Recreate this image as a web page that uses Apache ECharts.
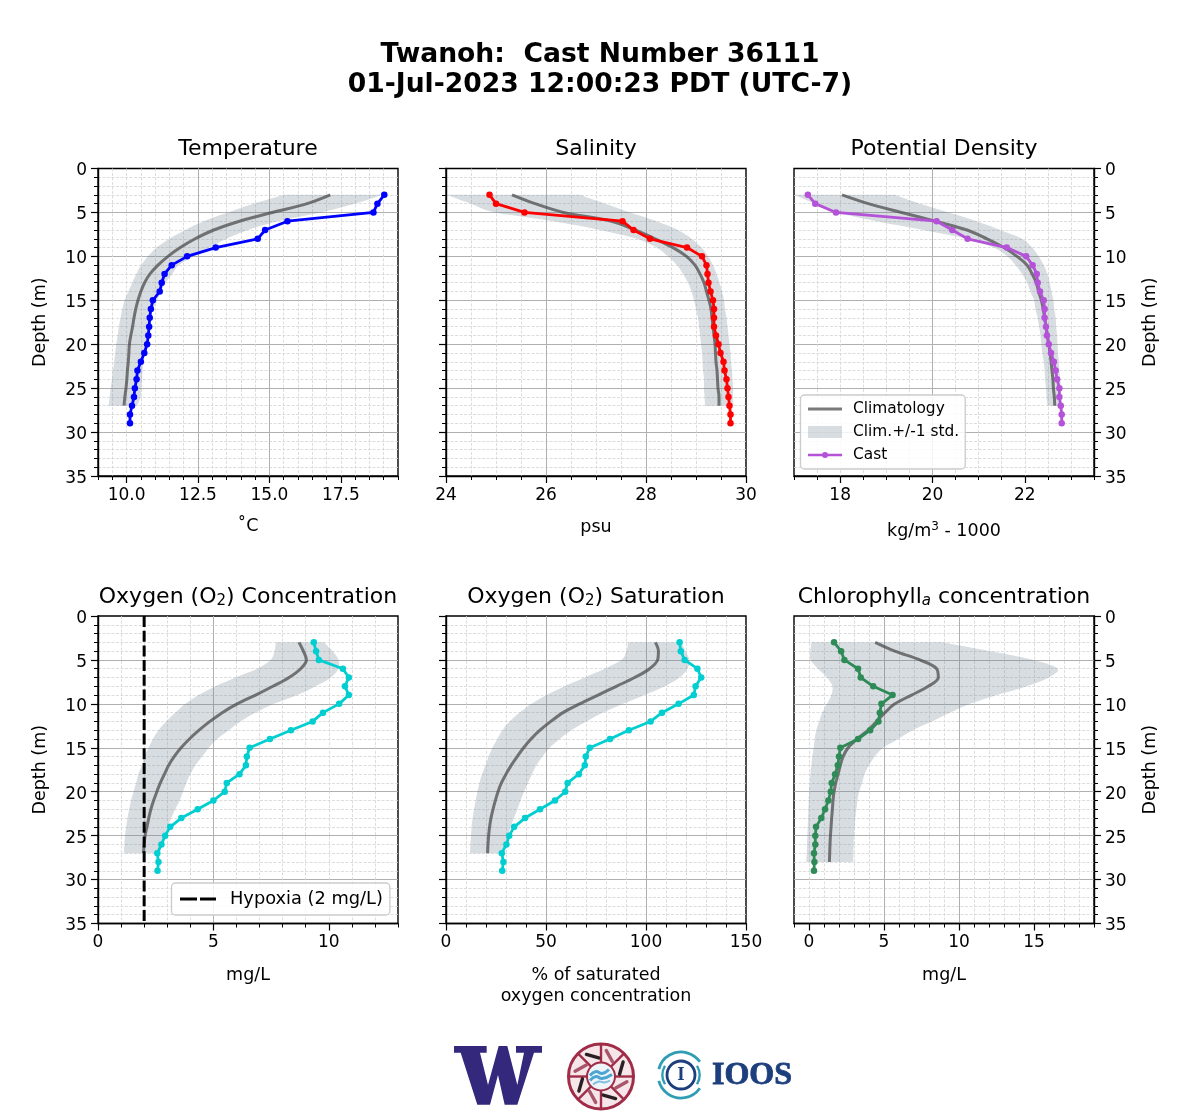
<!DOCTYPE html>
<html>
<head>
<meta charset="utf-8">
<style>html,body{margin:0;padding:0;background:#fff}#c{width:1200px;height:1120px}</style>
<script src="https://cdn.jsdelivr.net/npm/echarts@6/dist/echarts.min.js"></script>
</head>
<body>
<div id="c"></div>
<script>
const castDepths = [3,4,5,6,7,8,9,10,11,12,13,14,15,16,17,18,19,20,21,22,23,24,25,26,27,28,29];
const climDepths = [3,4,5,6,7,8,9,10,11,12,13,14,15,16,17,18,19,20,21,22,23,24,25,26,27];
const chlClimDepths = [3,4,5,6,7,8,9,10,11,12,13,14,15,16,17,18,19,20,21,22,23,24,25,26,27,28];
const depthTicks = [0,5,10,15,20,25,30,35];

const tempCast = [19.02,18.78,18.64,15.63,14.85,14.59,13.12,12.12,11.58,11.33,11.23,11.16,10.92,10.85,10.81,10.79,10.76,10.72,10.62,10.5,10.38,10.35,10.29,10.26,10.19,10.12,10.12];
const tempClim = [17.13,16.32,15.1,13.95,13.05,12.4,11.88,11.45,11.1,10.82,10.63,10.5,10.4,10.32,10.26,10.21,10.15,10.1,10.08,10.06,10.03,10.01,9.98,9.94,9.91];
const tempLow = [15.5,14.45,13.55,12.7,12.05,11.5,11.05,10.75,10.51,10.34,10.2,10.06,9.93,9.85,9.79,9.73,9.69,9.64,9.6,9.57,9.52,9.49,9.44,9.41,9.37];
const tempHigh = [18.94,18,16.8,15.3,14.25,13.5,12.9,12.35,11.83,11.6,11.36,11.21,11.07,10.93,10.84,10.78,10.72,10.68,10.63,10.58,10.56,10.54,10.51,10.49,10.37];
const tempTicks = [10,12.5,15,17.5];

const salCast = [24.87,25,25.57,27.53,27.75,28.08,28.82,29.12,29.21,29.23,29.25,29.29,29.34,29.36,29.36,29.36,29.4,29.45,29.49,29.55,29.57,29.61,29.63,29.65,29.67,29.69,29.69];
const salClim = [25.32,25.78,26.35,27.31,27.78,28.18,28.54,28.81,28.98,29.08,29.16,29.21,29.26,29.3,29.32,29.34,29.36,29.38,29.39,29.4,29.42,29.43,29.44,29.46,29.46];
const salLow = [24.02,24.49,24.98,26.15,27.08,27.81,28.21,28.44,28.62,28.74,28.84,28.91,28.96,29,29.04,29.06,29.08,29.1,29.12,29.13,29.14,29.16,29.16,29.17,29.18];
const salHigh = [26.68,27.18,27.68,28.21,28.64,28.91,29.11,29.24,29.34,29.41,29.47,29.52,29.56,29.58,29.61,29.63,29.65,29.67,29.69,29.7,29.72,29.73,29.74,29.74,29.75];
const salTicks = [24,26,28,30];

const denCast = [17.3,17.46,17.91,20.09,20.43,20.76,21.61,22.03,22.17,22.26,22.28,22.33,22.41,22.43,22.43,22.46,22.48,22.52,22.57,22.63,22.67,22.7,22.75,22.75,22.78,22.8,22.8];
const denClim = [18.04,18.61,19.33,20.06,20.75,21.18,21.55,21.83,22.05,22.16,22.25,22.3,22.36,22.4,22.43,22.46,22.49,22.52,22.55,22.57,22.59,22.61,22.62,22.64,22.65];
const denLow = [17.01,17.45,17.92,18.79,19.8,20.75,21.33,21.62,21.8,21.94,22.05,22.12,22.2,22.23,22.28,22.31,22.34,22.36,22.38,22.41,22.43,22.44,22.46,22.47,22.49];
const denHigh = [19.19,19.73,20.35,20.96,21.47,21.94,22.16,22.3,22.41,22.49,22.54,22.58,22.62,22.64,22.67,22.68,22.7,22.71,22.72,22.74,22.75,22.77,22.78,22.78,22.79];
const denTicks = [18,20,22];

const o2Cast = [9.35,9.45,9.57,10.61,10.87,10.7,10.87,10.45,9.75,9.3,8.36,7.45,6.57,6.45,6.41,6.13,5.58,5.49,5,4.32,3.61,3.13,2.91,2.75,2.57,2.62,2.58];
const o2Clim = [8.71,8.9,9.03,8.78,8.28,7.58,6.83,6.03,5.38,4.85,4.38,3.96,3.6,3.3,3.06,2.88,2.7,2.55,2.41,2.29,2.2,2.12,2.04,2,1.97];
const o2Low = [7.7,7.65,7.48,6.9,5.96,5.09,4.36,3.78,3.35,2.96,2.62,2.38,2.19,2.01,1.9,1.75,1.65,1.54,1.43,1.35,1.28,1.22,1.17,1.14,1.12];
const o2High = [9.8,10.16,10.42,10.41,10.09,9.43,8.64,7.62,6.83,6.17,5.67,5.16,4.8,4.51,4.22,4,3.83,3.68,3.54,3.35,3.17,3.03,2.91,2.8,2.67];
const o2Ticks = [0,5,10];
const hypoxiaX = [2,2];
const hypoxiaDepth = [0,35];

const satCast = [116.8,117.4,119.3,125.7,127.6,124.8,123.9,116.3,108,102.3,91.4,82,71.9,69.9,69.4,66.4,60.8,59.6,54.5,47,39.5,34.1,31.6,30.2,27.9,28.7,28.1];
const satClim = [104.7,106.2,105.8,101.8,94.3,85.2,76,66.8,58.5,52.4,47,42.5,38.8,35.6,32.6,30,27.7,26,24.7,23.5,22.5,21.8,21.3,21,20.8];
const satLow = [91,90.2,87.7,79.3,69.3,59.3,50.2,42.7,36.8,31.8,28.2,25.7,23.2,21.3,19.7,18,16.7,15.7,14.8,14,13.3,12.8,12.5,12.2,12];
const satHigh = [117.7,119.7,121.7,120.7,116.8,109.3,99.3,88.5,78.5,70.2,62.7,56.8,51.8,48.2,45.2,43,41,39,37.3,35.7,34,32.3,31,29.3,27.7];
const satTicks = [0,50,100,150];

const chlCast = [1.67,2.14,2.36,3.27,3.45,4.28,5.57,4.83,4.72,4.63,4.08,3.27,2.09,2,1.92,1.74,1.51,1.45,1.29,1.07,0.82,0.47,0.42,0.42,0.33,0.36,0.33];
const chlClim = [4.41,5.72,7.39,8.51,8.62,7.95,6.84,5.72,5.06,4.5,3.94,3.21,2.61,2.27,2.09,1.94,1.78,1.67,1.6,1.56,1.51,1.47,1.43,1.4,1.38,1.36];
const chlLow = [0.16,0.09,0.11,0.6,1.2,1.56,1.49,1.2,0.89,0.67,0.49,0.38,0.31,0.22,0.16,0.09,0.05,0,-0.02,-0.04,-0.06,-0.09,-0.11,-0.13,-0.15,-0.18];
const chlHigh = [8.95,12.07,14.97,16.57,15.97,14.52,12.52,10.73,9.4,8.2,6.9,5.95,4.94,4.38,4,3.71,3.54,3.34,3.23,3.16,3.09,3.05,3,2.98,2.96,2.94];
const chlTicks = [0,5,10,15];

const FONT = 'DejaVu Sans';
const BAND = 'rgba(112,128,144,0.27)';
const CLIM = 'rgba(70,70,70,0.72)';

const zip = (xs, ys) => xs.map((x, i) => [x, ys[i]]);
const zip3 = (a, b, c) => a.map((x, i) => [x, b[i], c[i]]);

/* rounds the drawn outline of the band between the pixel positions the axes return */
function rounded(pts) {
  const out = [];
  for (let i = 0; i < pts.length - 1; i++) {
    const a = pts[Math.max(i - 1, 0)], b = pts[i], c = pts[i + 1], d = pts[Math.min(i + 2, pts.length - 1)];
    for (let k = 0; k < 6; k++) {
      const t = k / 6, t2 = t * t, t3 = t2 * t;
      out.push([0, 1].map(j => 0.5 * (2 * b[j] + (c[j] - a[j]) * t + (2 * a[j] - 5 * b[j] + 4 * c[j] - d[j]) * t2 + (3 * b[j] - a[j] - 3 * c[j] + d[j]) * t3)));
    }
  }
  out.push(pts[pts.length - 1]);
  return out;
}
function bandRender(params, api) {
  if (params.dataIndex !== 0) return;
  const n = params.dataInsideLength, lo = [], hi = [];
  for (let i = 0; i < n; i++) {
    lo.push(api.coord([api.value(0, i), api.value(2, i)]));
    hi.push(api.coord([api.value(1, i), api.value(2, i)]));
  }
  return { type: 'polygon', shape: { points: rounded(lo).concat(rounded(hi).reverse()) }, style: { fill: BAND } };
}

const panels = [
  {col:0,row:0,title:'Temperature',xname:'˚C',gap:40,min:9,max:19.5,minor:0.5,ticks:tempTicks,fmt:v=>v.toFixed(1),
   cast:tempCast,clim:tempClim,low:tempLow,high:tempHigh,color:'#0000ff',castName:'Temperature cast',climName:'Temperature climatology',bandName:'Temperature band',climD:climDepths},
  {col:1,row:0,title:'Salinity',xname:'psu',gap:41,min:24,max:30,minor:0.5,ticks:salTicks,fmt:v=>String(v),
   cast:salCast,clim:salClim,low:salLow,high:salHigh,color:'#ff0000',castName:'Salinity cast',climName:'Salinity climatology',bandName:'Salinity band',climD:climDepths},
  {col:2,row:0,title:'Potential Density',xname:'kg/m{sup|3} - 1000',gap:45,min:17,max:23.5,minor:0.5,ticks:denTicks,fmt:v=>String(v),
   cast:denCast,clim:denClim,low:denLow,high:denHigh,color:'#b452d8',castName:'Cast',climName:'Climatology',bandName:'Clim.+/-1 std.',climD:climDepths},
  {col:0,row:1,title:'Oxygen (O{sub|2}) Concentration',xname:'mg/L',gap:41,min:0,max:13,minor:1,ticks:o2Ticks,fmt:v=>String(v),
   cast:o2Cast,clim:o2Clim,low:o2Low,high:o2High,color:'#00ced1',castName:'Oxygen cast',climName:'Oxygen climatology',bandName:'Oxygen band',climD:climDepths},
  {col:1,row:1,title:'Oxygen (O{sub|2}) Saturation',xname:'% of saturated\noxygen concentration',gap:41,min:0,max:150,minor:10,ticks:satTicks,fmt:v=>String(v),
   cast:satCast,clim:satClim,low:satLow,high:satHigh,color:'#00ced1',castName:'Saturation cast',climName:'Saturation climatology',bandName:'Saturation band',climD:climDepths},
  {col:2,row:1,title:'Chlorophyll{ital|a} concentration',xname:'mg/L',gap:41,min:-1,max:19,minor:1,ticks:chlTicks,fmt:v=>String(v),
   cast:chlCast,clim:chlClim,low:chlLow,high:chlHigh,color:'#2e8b57',castName:'Chlorophyll cast',climName:'Chlorophyll climatology',bandName:'Chlorophyll band',climD:chlClimDepths}
];

const LEFTS = [98, 446, 794], TOPS = [168.5, 616], W = 300, H = 307.5;
const grid = [], xAxis = [], yAxis = [], series = [], title = [];

title.push({
  text: 'Twanoh:  Cast Number 36111\n01-Jul-2023 12:00:23 PDT (UTC-7)',
  left: 600, top: 40, textAlign: 'center', padding: 0,
  textStyle: { fontFamily: FONT, fontSize: 26.6, fontWeight: 'bold', color: '#000', lineHeight: 30 }
});

panels.forEach((p, i) => {
  const left = LEFTS[p.col], top = TOPS[p.row];
  title.push({
    text: p.title, left: left + W / 2, top: top - 30, textAlign: 'center', padding: 0,
    textStyle: { fontFamily: FONT, fontSize: 22, fontWeight: 'normal', color: '#000',
      rich: {
        sub: { fontFamily: FONT, fontSize: 15, verticalAlign: 'bottom', padding: [8, 0, 0, 0], color: '#000' },
        ital: { fontFamily: FONT, fontSize: 15, fontStyle: 'italic', verticalAlign: 'bottom', padding: [8, 0, 0, 0], color: '#000' }
      } }
  });
  const gBack = grid.length;
  grid.push({ left, top, width: W, height: H, z: 0 });
  const gFront = grid.length;
  grid.push({ left, top, width: W, height: H, show: true, borderColor: '#000', borderWidth: 1.4, backgroundColor: 'transparent' });

  xAxis.push({ gridIndex: gBack, type: 'value', min: p.min, max: p.max, interval: p.minor,
    axisLine: { show: false, onZero: false }, axisLabel: { show: false },
    axisTick: { show: true, length: 4, lineStyle: { color: '#000', width: 1 } },
    splitLine: { show: true, showMinLine: false, showMaxLine: false, lineStyle: { color: '#d4d4d4', width: 0.8, type: [3, 1.5] } } });
  yAxis.push({ gridIndex: gBack, type: 'value', min: 0, max: 35, inverse: true, interval: 5,
    show: false, splitLine: { show: false } });

  const xFront = xAxis.length;
  xAxis.push({ gridIndex: gFront, type: 'value', min: p.min, max: p.max,
    name: p.xname, nameLocation: 'middle', nameGap: p.gap,
    nameTextStyle: { fontFamily: FONT, fontSize: 17.5, color: '#000', lineHeight: 21,
      rich: { sup: { fontFamily: FONT, fontSize: 12, verticalAlign: 'top', padding: [0, 0, 7, 0], color: '#000' } } },
    axisLine: { show: true, onZero: false, lineStyle: { color: '#000', width: 1.4 } },
    axisTick: { show: true, length: 7, lineStyle: { color: '#000', width: 1.2 }, customValues: p.ticks },
    axisLabel: { show: true, fontFamily: FONT, fontSize: 17, color: '#000', margin: 11, customValues: p.ticks, formatter: p.fmt, hideOverlap: false },
    splitLine: { show: true, showMinLine: false, showMaxLine: false, lineStyle: { color: '#b0b0b0', width: 1 } } });
  const yFront = yAxis.length;
  const labelled = p.col !== 1;
  yAxis.push({ gridIndex: gFront, type: 'value', min: 0, max: 35, inverse: true, interval: 5,
    position: p.col === 2 ? 'right' : 'left',
    name: labelled ? 'Depth (m)' : '', nameLocation: 'middle', nameGap: p.col === 2 ? 47 : 49, nameRotate: 90,
    nameTextStyle: { fontFamily: FONT, fontSize: 17.5, color: '#000' },
    axisLine: { show: true, onZero: false, lineStyle: { color: '#000', width: 1.4 } },
    axisTick: { show: true, length: 7, lineStyle: { color: '#000', width: 1.2 } },
    minorTick: { show: true, splitNumber: 5, length: 4, lineStyle: { color: '#000', width: 1 } },
    axisLabel: { show: labelled, fontFamily: FONT, fontSize: 17, color: '#000', margin: 11, verticalAlign: 'top', lineHeight: 5, customValues: depthTicks },
    splitLine: { show: true, showMinLine: false, showMaxLine: false, lineStyle: { color: '#b0b0b0', width: 1 } },
    minorSplitLine: { show: true, lineStyle: { color: '#d4d4d4', width: 0.8, type: [3, 1.5] } } });

  series.push({
    name: p.bandName, type: 'custom', xAxisIndex: xFront, yAxisIndex: yFront, renderItem: bandRender,
    encode: { x: [0, 1], y: 2 }, clip: true, silent: true, itemStyle: { color: BAND },
    data: zip3(p.low, p.high, p.climD), z: 2
  });
  series.push({
    name: p.climName, type: 'line', xAxisIndex: xFront, yAxisIndex: yFront, showSymbol: false, symbol: 'none', smooth: 0.35,
    lineStyle: { color: CLIM, width: 3 }, itemStyle: { color: CLIM }, data: zip(p.clim, p.climD), z: 3, silent: true, animation: false
  });
  series.push({
    name: p.castName, type: 'line', xAxisIndex: xFront, yAxisIndex: yFront, symbol: 'circle', symbolSize: 6.5, showSymbol: true,
    lineStyle: { color: p.color, width: 2.8 }, itemStyle: { color: p.color }, data: zip(p.cast, castDepths), z: 4, silent: true, animation: false
  });
  if (i === 3) {
    series.push({
      name: 'Hypoxia (2 mg/L)', type: 'line', xAxisIndex: xFront, yAxisIndex: yFront, symbol: 'none',
      lineStyle: { color: '#000', width: 3, type: [11, 3.7] }, itemStyle: { color: '#000' },
      data: zip(hypoxiaX, hypoxiaDepth), z: 5, silent: true, animation: false
    });
  }
});

const legendBase = { orient: 'vertical', backgroundColor: 'rgba(255,255,255,0.85)', borderColor: '#cccccc', borderWidth: 1.3, borderRadius: 4, selectedMode: false, z: 20 };
const CAST_ICON = 'path://M0 1.7H34V4.3H0Z M20 3A3 3 0 1 1 14 3A3 3 0 1 1 20 3Z';
const legend = [
  Object.assign({}, legendBase, { left: 800.5, top: 395, padding: [6.5, 6, 6.5, 6], itemWidth: 34, itemHeight: 12, itemGap: 8, align: 'left',
    textStyle: { fontFamily: FONT, fontSize: 15.4, color: '#000', padding: [0, 0, 0, 6] },
    data: [ { name: 'Climatology', itemStyle: { opacity: 0 }, lineStyle: { width: 3 } }, { name: 'Clim.+/-1 std.', icon: 'rect', itemStyle: { color: BAND } }, { name: 'Cast', icon: CAST_ICON } ] }),
  Object.assign({}, legendBase, { left: 171.5, top: 883, padding: [7, 7, 7, 7], itemWidth: 36, itemHeight: 14, align: 'left',
    textStyle: { fontFamily: FONT, fontSize: 17.8, color: '#000', padding: [0, 0, 0, 9] },
    data: [ { name: 'Hypoxia (2 mg/L)', itemStyle: { opacity: 0 }, lineStyle: { width: 3, type: [17, 3] } } ] })
];

const NAVY = '#33287c', CRIM = '#a02c48', TEAL = '#2f9db3', BLUE = '#1d3f7d';
const wPts = [[72,48],[170,48],[170,68],[150,68],[174,165],[206,48],[232,48],[262,165],[282,68],[258,68],[258,48],[336,48],[336,68],[312,68],[262,224],[224,224],[204,135],[180,224],[142,224],[92,68],[72,68]]
  .map(q => [430 + q[0] / 3, 1030 + q[1] / 3]);
const logo = [{ type: 'polygon', shape: { points: wPts }, style: { fill: NAVY } }];
const cx = 601, cy = 1076.5;
logo.push({ type: 'circle', shape: { cx, cy, r: 32.5 }, style: { fill: '#f6e6ea', stroke: CRIM, lineWidth: 3 } });
logo.push({ type: 'circle', shape: { cx, cy, r: 14 }, style: { fill: '#eef4f8', stroke: CRIM, lineWidth: 2 } });
for (let k = 0; k < 8; k++) {
  const a = Math.PI / 8 + k * Math.PI / 4, ca = Math.cos(a), sa = Math.sin(a), b = a + Math.PI / 8;
  logo.push({ type: 'line', shape: { x1: cx + 14 * Math.cos(b), y1: cy + 14 * Math.sin(b), x2: cx + 32 * Math.cos(b), y2: cy + 32 * Math.sin(b) }, style: { stroke: CRIM, lineWidth: 2.4 } });
  logo.push({ type: 'line', shape: { x1: cx + 18 * ca - 5 * sa, y1: cy + 18 * sa + 5 * ca, x2: cx + 26 * ca + 5 * sa, y2: cy + 26 * sa - 5 * ca }, style: { stroke: k % 2 ? '#2a2024' : '#a8566a', lineWidth: 3.4, lineCap: 'round' } });
}
logo.push({ type: 'polyline', shape: { points: [[cx-11,cy-1],[cx-5,cy-5],[cx+1,cy-3],[cx+8,cy-7]], smooth: 0.5 }, style: { stroke: '#4ba6d3', lineWidth: 3, fill: 'none' } });
logo.push({ type: 'polyline', shape: { points: [[cx-11,cy+4],[cx-5,cy],[cx+1,cy+2],[cx+11,cy-2]], smooth: 0.5 }, style: { stroke: '#4ba6d3', lineWidth: 3, fill: 'none' } });
logo.push({ type: 'polyline', shape: { points: [[cx-8,cy+8],[cx-2,cy+5],[cx+3,cy+6],[cx+9,cy+4]], smooth: 0.5 }, style: { stroke: '#7fc0de', lineWidth: 2, fill: 'none' } });
const ix = 681, iy = 1075;
const arc = (r, s, e, col, lw) => ({ type: 'arc', shape: { cx: ix, cy: iy, r, startAngle: s * Math.PI / 180, endAngle: e * Math.PI / 180 }, style: { stroke: col, lineWidth: lw, fill: 'none' } });
logo.push(arc(23, 195, 325, TEAL, 2.8), arc(23, 35, 165, TEAL, 2.8), arc(18.5, 150, 210, TEAL, 2.4), arc(18.5, -30, 30, TEAL, 2.4));
logo.push(arc(14, 0, 360, BLUE, 2.8));
logo.push({ type: 'text', x: ix, y: iy, style: { text: 'I', fontFamily: 'Liberation Serif', fontWeight: 'bold', fontSize: 19, fill: BLUE, align: 'center', verticalAlign: 'middle' } });
logo.push({ type: 'text', x: 712, y: 1075.5, style: { text: 'IOOS', fontFamily: 'Liberation Serif', fontWeight: 'bold', fontSize: 32, fill: BLUE, stroke: BLUE, lineWidth: 0.8, align: 'left', verticalAlign: 'middle' } });

const chart = echarts.init(document.getElementById('c'), null, { renderer: 'canvas' });
chart.setOption({
  animation: false, backgroundColor: '#ffffff',
  title, grid, xAxis, yAxis, series, legend,
  graphic: { elements: logo.map(e => Object.assign({ silent: true }, e)) }
});
</script>
</body>
</html>
